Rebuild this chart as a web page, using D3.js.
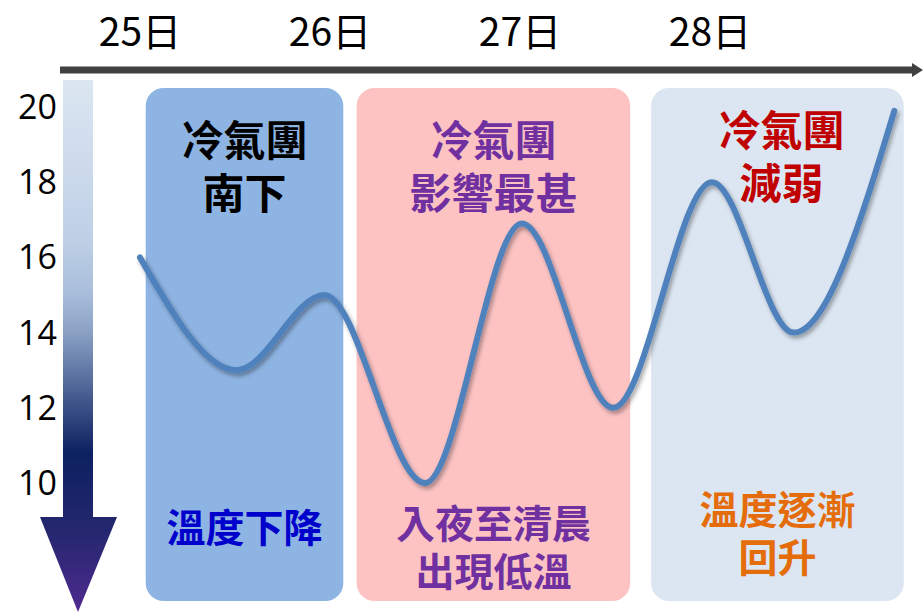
<!DOCTYPE html>
<html><head><meta charset="utf-8">
<script src="https://cdn.jsdelivr.net/npm/d3@7/dist/d3.min.js"></script>
<style>body{margin:0;background:#fff;}svg{display:block;}</style>
</head><body>
<script>
// ---- data ----
const dateLabels = ["25日", "26日", "27日", "28日"];
const dateValues = [25, 26, 27, 28];
const tempTicks = [20, 18, 16, 14, 12, 10];
const curveDays = [25.0, 25.51, 25.97, 26.5, 27.01, 27.49, 28.01, 28.44, 28.97];
const curveTemps = [16, 13, 15, 10, 16.9, 12, 18, 14, 19.9];
const panelStarts = [25.03, 26.14, 27.69];
const panelEnds = [26.07, 27.58, 29.02];
const panelTop = ["冷氣團\n南下", "冷氣團\n影響最甚", "冷氣團\n減弱"];
const panelBottom = ["溫度下降", "入夜至清晨\n出現低溫", "溫度逐漸\n回升"];

const W = 923, H = 614;
const svg = d3.select("body").append("svg").attr("width", W).attr("height", H);
const defs = svg.append("defs");

const x = d3.scaleLinear().domain([25, 29]).range([140, 900]);
const y = d3.scaleLinear().domain([10, 20]).range([483, 107]);

const panelFill = ["#8eb4e3", "#fdc3c3", "#dce6f2"];
const topColor = ["#000000", "#7030a0", "#c00000"];
const bottomColor = ["#0000cc", "#7030a0", "#e46c0a"];
const topY = [141, 141, 131];
const bottomY = [528, 524, 510];
const cjk = "'Noto Sans CJK TC','Noto Sans CJK SC',sans-serif";

// panels
const pTop = 88, pBot = 601;
svg.append("g").selectAll("rect").data(panelStarts).join("rect")
  .attr("x", (d) => x(d))
  .attr("y", pTop)
  .attr("width", (d, i) => x(panelEnds[i]) - x(d))
  .attr("height", pBot - pTop)
  .attr("rx", 18).attr("ry", 18)
  .attr("fill", (d, i) => panelFill[i]);

// panel texts
panelTop.forEach((t, i) => {
  const cx = (x(panelStarts[i]) + x(panelEnds[i])) / 2 + (i === 2 ? 4 : 0);
  t.split("\n").forEach((line, j) => {
    svg.append("text").attr("text-anchor", "middle")
      .attr("font-family", cjk).attr("font-weight", "bold").attr("font-size", 42)
      .attr("fill", topColor[i])
      .attr("x", cx).attr("y", topY[i] + j * 53).attr("dy", "0.35em").text(line);
  });
});
panelBottom.forEach((t, i) => {
  const cx = (x(panelStarts[i]) + x(panelEnds[i])) / 2;
  t.split("\n").forEach((line, j) => {
    svg.append("text").attr("text-anchor", "middle")
      .attr("font-family", cjk).attr("font-weight", "bold").attr("font-size", 39)
      .attr("fill", bottomColor[i])
      .attr("x", cx).attr("y", bottomY[i] + j * 48).attr("dy", "0.35em").text(line);
  });
});

// top horizontal arrow
svg.append("line").attr("x1", 60).attr("x2", 915).attr("y1", 70).attr("y2", 70)
  .attr("stroke", "#404040").attr("stroke-width", 7);
svg.append("path").attr("d", "M912,63 L923,70 L912,77 Z").attr("fill", "#404040");

// date labels
svg.append("g").selectAll("text").data(dateValues).join("text")
  .attr("x", (d) => x(d)).attr("y", 46)
  .attr("text-anchor", "middle")
  .attr("font-family", "'Liberation Sans Narrow','Noto Sans CJK TC',sans-serif")
  .attr("font-size", 39).attr("fill", "#000")
  .text((d, i) => dateLabels[i]);

// vertical gradient arrow
const grad = defs.append("linearGradient").attr("id", "vg")
  .attr("gradientUnits", "userSpaceOnUse").attr("x1", 0).attr("x2", 0).attr("y1", 80).attr("y2", 612);
[[0, "#dce6f2"], [0.3, "#bfd0e6"], [0.4, "#a9bedb"], [0.47, "#8ca3c6"], [0.6, "#43598d"], [0.7, "#0c2160"], [0.85, "#25276f"], [1, "#4f2a90"]]
  .forEach(([o, c]) => grad.append("stop").attr("offset", o).attr("stop-color", c));
svg.append("path")
  .attr("d", "M63,80 L93,80 L93,517 L117,517 L78,612 L40,517 L63,517 Z")
  .attr("fill", "url(#vg)");

// y tick labels
svg.append("g").selectAll("text").data(tempTicks).join("text")
  .attr("x", 57).attr("y", (d) => y(d)).attr("dy", "0.35em")
  .attr("text-anchor", "end")
  .attr("font-family", "'Open Sans','Liberation Sans',sans-serif")
  .attr("font-size", 34).attr("fill", "#000")
  .text((d) => d);

// shadow filter
const f = defs.append("filter").attr("id", "sh").attr("x", "-10%").attr("y", "-10%").attr("width", "130%").attr("height", "130%");
f.append("feDropShadow").attr("dx", 2).attr("dy", 3).attr("stdDeviation", 2)
  .attr("flood-color", "#000").attr("flood-opacity", 0.35);

// temperature curve
const pts = curveDays.map((d, i) => [d, curveTemps[i]]);
const line = d3.line().x((d) => x(d[0])).y((d) => y(d[1])).curve(d3.curveMonotoneX);
svg.append("path").datum(pts)
  .attr("d", line)
  .attr("fill", "none").attr("stroke", "#4f81bd").attr("stroke-width", 6)
  .attr("stroke-linecap", "round")
  .attr("filter", "url(#sh)");
</script>
</body></html>
